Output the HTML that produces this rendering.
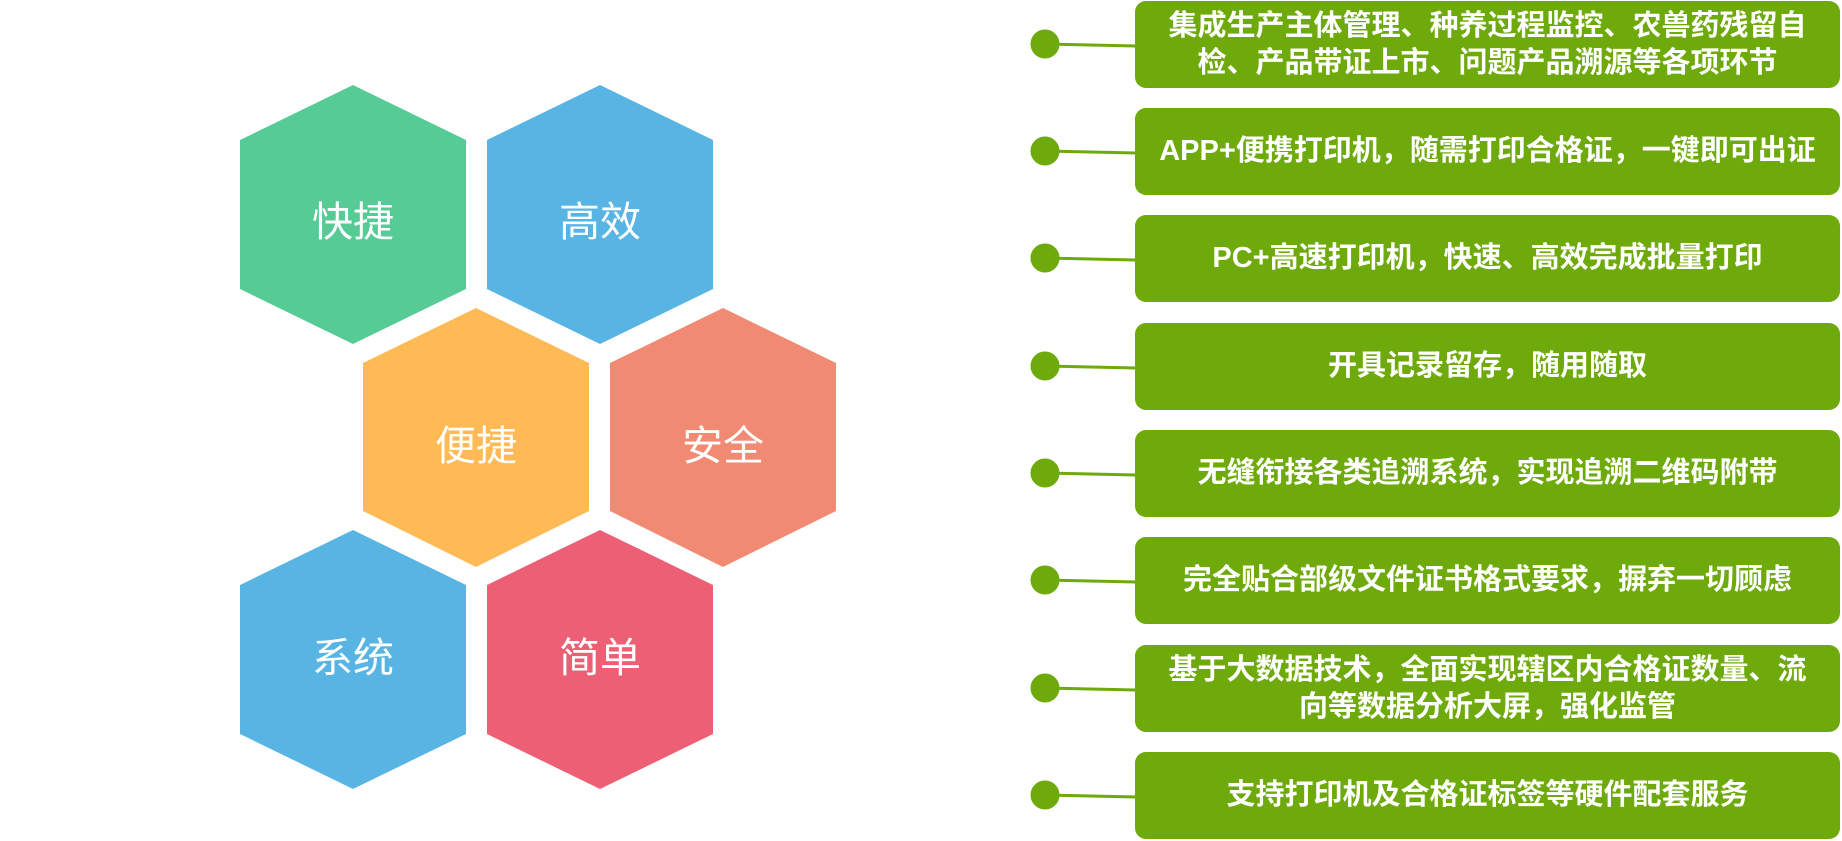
<!DOCTYPE html>
<html><head><meta charset="utf-8"><style>
html,body{margin:0;padding:0;background:#fff;}
body{width:1842px;height:841px;position:relative;overflow:hidden;font-family:"Liberation Sans","Noto Sans CJK SC",sans-serif;}
.box{position:absolute;left:1135px;width:705px;height:87px;background:#6faa0d;border-radius:11px;color:#fff;font-weight:bold;font-size:29px;line-height:37px;display:flex;align-items:center;justify-content:center;text-align:center;}
</style></head><body>
<svg width="1842" height="841" style="position:absolute;left:0;top:0">
<g font-family="Liberation Sans, Noto Sans CJK SC, sans-serif" font-size="41" fill="#fff" text-anchor="middle">
<polygon points="353,85 466,140 466,289 353,344 240,289 240,140" fill="#56cb95"/>
<text x="353" y="236">快捷</text>
<polygon points="600,85 713,140 713,289 600,344 487,289 487,140" fill="#58b5e3"/>
<text x="600" y="236">高效</text>
<polygon points="476,308 589,363 589,511 476,567 363,511 363,363" fill="#ffba56"/>
<text x="476" y="460">便捷</text>
<polygon points="723,308 836,363 836,511 723,567 610,511 610,363" fill="#f08a72"/>
<text x="723" y="460">安全</text>
<polygon points="353,530 466,585 466,734 353,789 240,734 240,585" fill="#58b5e3"/>
<text x="353" y="672">系统</text>
<polygon points="600,530 713,585 713,734 600,789 487,734 487,585" fill="#ec5f74"/>
<text x="600" y="672">简单</text>
</g>
<g fill="#6faa0d" stroke="#6faa0d" stroke-width="3">
<line x1="1045" y1="44" x2="1136" y2="46"/><circle cx="1045" cy="44" r="13"/>
<line x1="1045" y1="151" x2="1136" y2="153"/><circle cx="1045" cy="151" r="13"/>
<line x1="1045" y1="258" x2="1136" y2="260"/><circle cx="1045" cy="258" r="13"/>
<line x1="1045" y1="366" x2="1136" y2="368"/><circle cx="1045" cy="366" r="13"/>
<line x1="1045" y1="473" x2="1136" y2="475"/><circle cx="1045" cy="473" r="13"/>
<line x1="1045" y1="580" x2="1136" y2="582"/><circle cx="1045" cy="580" r="13"/>
<line x1="1045" y1="688" x2="1136" y2="690"/><circle cx="1045" cy="688" r="13"/>
<line x1="1045" y1="795" x2="1136" y2="797"/><circle cx="1045" cy="795" r="13"/>
</g>
</svg>
<div class="box" style="top:1px">集成生产主体管理、种养过程监控、农兽药残留自<br>检、产品带证上市、问题产品溯源等各项环节</div>
<div class="box" style="top:108px">APP+便携打印机，随需打印合格证，一键即可出证</div>
<div class="box" style="top:215px">PC+高速打印机，快速、高效完成批量打印</div>
<div class="box" style="top:323px">开具记录留存，随用随取</div>
<div class="box" style="top:430px">无缝衔接各类追溯系统，实现追溯二维码附带</div>
<div class="box" style="top:537px">完全贴合部级文件证书格式要求，摒弃一切顾虑</div>
<div class="box" style="top:645px">基于大数据技术，全面实现辖区内合格证数量、流<br>向等数据分析大屏，强化监管</div>
<div class="box" style="top:752px">支持打印机及合格证标签等硬件配套服务</div>
</body></html>
